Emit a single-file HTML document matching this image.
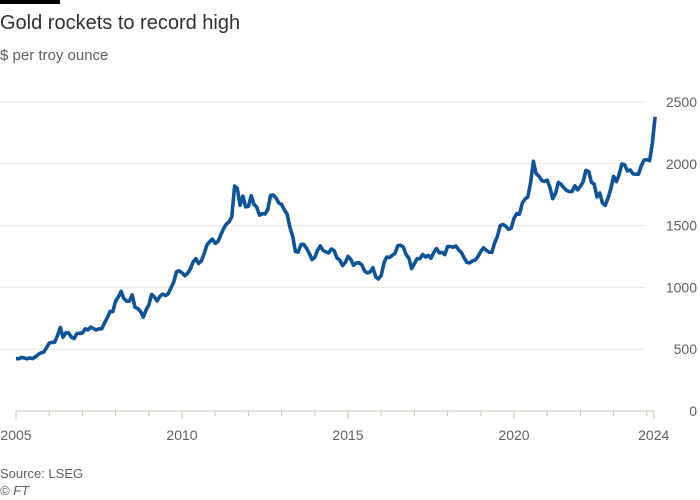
<!DOCTYPE html>
<html><head><meta charset="utf-8"><style>
body{margin:0;width:700px;height:500px;background:#fff;font-family:"Liberation Sans",sans-serif;overflow:hidden;position:relative}
.t{position:absolute;left:0;top:12px;font-size:20px;color:#33302e}
.s{position:absolute;left:0;top:47px;font-size:15px;color:#66605c}
.f{position:absolute;left:0;font-size:13px;color:#66605c}
</style></head><body>
<div style="position:absolute;left:0;top:0;width:60px;height:4px;background:#000"></div>
<div class="t">Gold rockets to record high</div>
<div class="s">$ per troy ounce</div>
<svg id="c" width="700" height="500" style="position:absolute;left:0;top:0"></svg>
<div class="f" style="top:466px">Source: LSEG</div>
<div class="f" style="top:483px;font-style:italic">© FT</div>
<script>
const yTicks=[0,500,1000,1500,2000,2500];
const xTickLabels=["2005","2010","2015","2020","2024"];
const startYear=2005;
const prices=[
424,423,434,429,422,430,424,438,456,470,476,510,
549,555,557,610,676,596,633,632,598,586,627,629,
631,665,655,679,667,655,665,665,712,754,806,803,
889,923,968,909,888,889,939,839,829,806,760,816,
858,943,924,890,928,946,934,949,996,1043,1127,1134,
1118,1095,1113,1148,1205,1233,1193,1215,1271,1343,1370,1391,
1356,1372,1424,1474,1512,1529,1572,1820,1800,1665,1739,1652,
1656,1742,1673,1650,1585,1596,1594,1630,1744,1747,1722,1684,
1671,1627,1593,1487,1414,1290,1286,1348,1349,1316,1275,1225,
1244,1300,1336,1299,1287,1279,1311,1296,1239,1222,1176,1200,
1251,1227,1179,1198,1199,1182,1131,1117,1125,1159,1086,1068,
1097,1199,1246,1242,1260,1276,1337,1341,1326,1266,1236,1152,
1192,1234,1231,1266,1246,1260,1236,1283,1315,1280,1283,1265,
1331,1331,1325,1335,1303,1282,1238,1202,1198,1215,1221,1250,
1291,1320,1300,1285,1284,1359,1413,1500,1510,1495,1470,1480,
1560,1597,1592,1683,1715,1732,1847,2020,1921,1900,1866,1858,
1867,1808,1718,1760,1850,1834,1807,1785,1775,1777,1821,1790,
1817,1856,1947,1937,1849,1836,1732,1764,1681,1664,1725,1798,
1898,1855,1913,1999,1992,1942,1951,1918,1916,1916,1985,2030,
2033,2025,2160,2380];
const NS="http://www.w3.org/2000/svg";
const svg=document.getElementById('c');
const x=yr=>16+(yr-2005)*33.2;
const y=v=>411-v*0.1236;
function mk(t,a){const e=document.createElementNS(NS,t);for(const k in a)e.setAttribute(k,a[k]);svg.appendChild(e);return e;}
yTicks.forEach(v=>{
 if(v>0){const g=mk('line',{x1:0,x2:645,y1:y(v),y2:y(v),stroke:'#e9e4e0','stroke-width':1});
 
 }
 const t=mk('text',{x:697,y:y(v)+5,'text-anchor':'end','font-size':14,fill:'#66605c','font-family':'Liberation Sans, sans-serif'});
 t.textContent=v;
 
 
});
const ax=mk('line',{x1:16,x2:655,y1:411,y2:411,stroke:'#ccc1b7','stroke-width':1});


for(let yr=2005;yr<=2024;yr++){
 const big=(yr%5===0);
 const tk=mk('line',{x1:x(yr),x2:x(yr),y1:411,y2:big?419:416,stroke:'#ccc1b7','stroke-width':1});
 
 
}
const endX=x(startYear+(prices.length-1.5)/12);
const et=mk('line',{x1:endX,x2:endX,y1:411,y2:419,stroke:'#ccc1b7','stroke-width':1});


xTickLabels.forEach(l=>{
 const yr=+l;
 const px=yr===2024?endX:x(yr);
 const t=mk('text',{x:px,y:440,'text-anchor':'middle','font-size':14,fill:'#66605c','font-family':'Liberation Sans, sans-serif'});
 t.textContent=l;
 
 
});
const d=prices.map((v,i)=>(i?'L':'M')+x(startYear+i/12).toFixed(1)+','+y(v).toFixed(1)).join('');
const p=mk('path',{d:d,fill:'none',stroke:'#0f5499','stroke-width':3.6,'stroke-linejoin':'round'});


</script>
</body></html>
